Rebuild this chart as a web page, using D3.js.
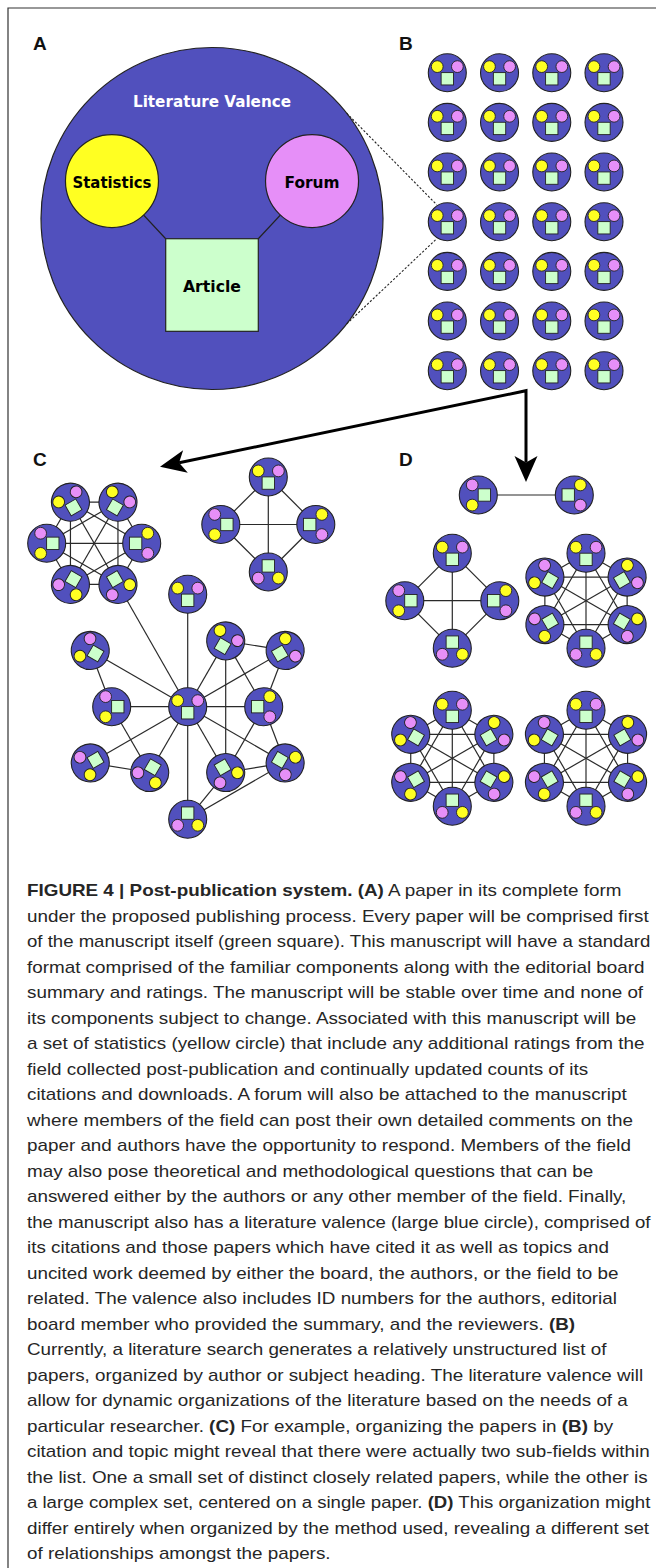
<!DOCTYPE html>
<html>
<head>
<meta charset="utf-8">
<script src="https://cdn.jsdelivr.net/npm/d3@7"></script>
<style>
  body { margin: 0; background: #fff; }
  svg { display: block; }
</style>
</head>
<body>
<svg id="fig" width="656" height="1568"></svg>
<script>
// ---------- data ----------
const panelLabels = ['A', 'B', 'C', 'D']
const valenceTitle = 'Literature Valence'
const componentLabels = ['Statistics', 'Forum', 'Article']

// B: unstructured list of papers (rows x columns)
const listRows = d3.range(7)
const listCols = d3.range(4)
const zoomedRow = 3
const zoomedCol = 0

// C: large cluster centred on a single paper
const starInner = ['s1', 's2', 's3', 's4', 's5']
const starOuter = ['t1', 't2', 't3', 't4', 't5', 't6']
const starLinks = [
  ['t1', 's5'], ['s5', 's4'], ['t6', 's4'], ['s1', 't3'],
  ['s1', 's2'], ['t3', 's2'], ['s1', 's3'], ['s2', 's3'],
  ['s2', 't4'], ['s3', 't4'], ['t5', 't4'], ['t5', 's3'],
]
// C: small sets of closely related papers (all papers linked to each other)
const clusterSizesC = [6, 4]
// D: organised by method
const clusterSizesD = [2, 4, 6, 6, 6]

const captionLines = [
  '**FIGURE 4 | Post-publication system. (A)** A paper in its complete form',
  'under the proposed publishing process. Every paper will be comprised first',
  'of the manuscript itself (green square). This manuscript will have a standard',
  'format comprised of the familiar components along with the editorial board',
  'summary and ratings. The manuscript will be stable over time and none of',
  'its components subject to change. Associated with this manuscript will be',
  'a set of statistics (yellow circle) that include any additional ratings from the',
  'field collected post-publication and continually updated counts of its',
  'citations and downloads. A forum will also be attached to the manuscript',
  'where members of the field can post their own detailed comments on the',
  'paper and authors have the opportunity to respond. Members of the field',
  'may also pose theoretical and methodological questions that can be',
  'answered either by the authors or any other member of the field. Finally,',
  'the manuscript also has a literature valence (large blue circle), comprised of',
  'its citations and those papers which have cited it as well as topics and',
  'uncited work deemed by either the board, the authors, or the field to be',
  'related. The valence also includes ID numbers for the authors, editorial',
  'board member who provided the summary, and the reviewers. **(B)**',
  'Currently, a literature search generates a relatively unstructured list of',
  'papers, organized by author or subject heading. The literature valence will',
  'allow for dynamic organizations of the literature based on the needs of a',
  'particular researcher. **(C)** For example, organizing the papers in **(B)** by',
  'citation and topic might reveal that there were actually two sub-fields within',
  'the list. One a small set of distinct closely related papers, while the other is',
  'a large complex set, centered on a single paper. **(D)** This organization might',
  'differ entirely when organized by the method used, revealing a different set',
  'of relationships amongst the papers.',
]

// ---------- layout & style ----------
const col = {
  valence: '#5150bd',
  stats: '#ffff22',
  forum: '#e68ff8',
  article: '#ccffcc',
  ink: '#222',
}
const nodeR = 19
const labelPos = [[33, 50], [399, 50], [33, 466], [399, 466]]
const bigA = { cx: 212, cy: 218.5, r: 171 }

const svg = d3.select('#fig')
  .style('font-family', "'Liberation Sans', Arial, sans-serif")

// frame (top and left rule)
svg.append('path')
  .attr('d', 'M8,1568V8H656')
  .attr('fill', 'none')
  .attr('stroke', '#333')
  .attr('stroke-width', 1.2)

// panel letters
svg.append('g').selectAll('text')
  .data(panelLabels)
  .join('text')
  .attr('x', (d, i) => labelPos[i][0])
  .attr('y', (d, i) => labelPos[i][1])
  .attr('font-size', 19)
  .attr('font-weight', 'bold')
  .attr('fill', '#111')
  .text((d) => d)

// one paper: valence circle with statistics, forum and article
function paper(parent, cx, cy, rot) {
  const r = nodeR
  const g = parent.append('g')
    .attr('transform', `translate(${cx},${cy}) rotate(${rot})`)
  g.append('circle').attr('r', r)
    .attr('fill', col.valence).attr('stroke', col.ink).attr('stroke-width', 1.1)
  const s = 0.65 * r
  g.append('rect')
    .attr('x', -s / 2).attr('y', 0.32 * r - s / 2)
    .attr('width', s).attr('height', s)
    .attr('fill', col.article).attr('stroke', col.ink).attr('stroke-width', 0.9)
  g.append('circle')
    .attr('cx', -0.53 * r).attr('cy', -0.32 * r).attr('r', 0.31 * r)
    .attr('fill', col.stats).attr('stroke', col.ink).attr('stroke-width', 0.9)
  g.append('circle')
    .attr('cx', 0.53 * r).attr('cy', -0.32 * r).attr('r', 0.31 * r)
    .attr('fill', col.forum).attr('stroke', col.ink).attr('stroke-width', 0.9)
}

const rad = (deg) => (deg * Math.PI) / 180
const polar = (c, R, deg) => [c[0] + R * Math.cos(rad(deg)), c[1] + R * Math.sin(rad(deg))]

// ---------- A ----------
const gA = svg.append('g')
const stat = { x: bigA.cx - 0.585 * bigA.r, y: bigA.cy - 0.219 * bigA.r, r: 0.272 * bigA.r }
const forum = { x: bigA.cx + 0.585 * bigA.r, y: stat.y, r: stat.r }
const art = { x: bigA.cx, y: bigA.cy + 0.389 * bigA.r, s: 0.5415 * bigA.r }

gA.append('circle')
  .attr('cx', bigA.cx).attr('cy', bigA.cy).attr('r', bigA.r)
  .attr('fill', col.valence).attr('stroke', col.ink).attr('stroke-width', 1.2)
gA.append('path')
  .attr('d', `M${stat.x},${stat.y}L${art.x - art.s / 2},${art.y - art.s / 2}` +
    `M${forum.x},${forum.y}L${art.x + art.s / 2},${art.y - art.s / 2}`)
  .attr('stroke', col.ink).attr('stroke-width', 1.2)
gA.append('rect')
  .attr('x', art.x - art.s / 2).attr('y', art.y - art.s / 2)
  .attr('width', art.s).attr('height', art.s)
  .attr('fill', col.article).attr('stroke', col.ink).attr('stroke-width', 1.2)
gA.selectAll('circle.part')
  .data([[stat, col.stats], [forum, col.forum]])
  .join('circle')
  .attr('class', 'part')
  .attr('cx', (d) => d[0].x).attr('cy', (d) => d[0].y).attr('r', (d) => d[0].r)
  .attr('fill', (d) => d[1]).attr('stroke', col.ink).attr('stroke-width', 1.2)

const labelFont = "'DejaVu Sans', Verdana, sans-serif"
gA.append('text')
  .attr('x', bigA.cx).attr('y', bigA.cy - 0.652 * bigA.r)
  .attr('text-anchor', 'middle').attr('font-family', labelFont)
  .attr('font-weight', 'bold').attr('font-size', 15).attr('fill', '#fff')
  .attr('textLength', 158).attr('lengthAdjust', 'spacingAndGlyphs')
  .text(valenceTitle)
const compPos = [[stat.x, stat.y + 7, 79], [forum.x, forum.y + 7, 55], [art.x, art.y + 7, 58]]
gA.selectAll('text.comp')
  .data(componentLabels)
  .join('text')
  .attr('class', 'comp')
  .attr('x', (d, i) => compPos[i][0]).attr('y', (d, i) => compPos[i][1])
  .attr('textLength', (d, i) => compPos[i][2]).attr('lengthAdjust', 'spacingAndGlyphs')
  .attr('text-anchor', 'middle').attr('font-family', labelFont)
  .attr('font-weight', 'bold').attr('font-size', 15).attr('fill', '#000')
  .text((d) => d)

// ---------- B ----------
const xB = d3.scalePoint().domain(listCols).range([447.3, 604])
const yB = d3.scalePoint().domain(listRows).range([72.7, 370.7])
const gB = svg.append('g')
d3.cross(listRows, listCols).forEach(([r, c]) => paper(gB, xB(c), yB(r), 0))

// dashed zoom lines from A to one paper in B
const target = [xB(zoomedCol), yB(zoomedRow)]
const dashes = [[-38, -122], [38, 122]].map(([a1, a2]) => [
  polar([bigA.cx, bigA.cy], bigA.r, a1),
  polar(target, nodeR + 1, a2),
])
svg.append('g').selectAll('line')
  .data(dashes)
  .join('line')
  .attr('x1', (d) => d[0][0]).attr('y1', (d) => d[0][1])
  .attr('x2', (d) => d[1][0]).attr('y2', (d) => d[1][1])
  .attr('stroke', '#222').attr('stroke-width', 1.1).attr('stroke-dasharray', '2.2,1.8')

// ---------- arrows ----------
const corner = [526, 390.7]
const tipC = [160, 466.7]
const tipD = [526, 482]
function head(tip, from, len = 26, half = 11.5, notch = 6.5) {
  const a = Math.atan2(tip[1] - from[1], tip[0] - from[0])
  const ux = Math.cos(a), uy = Math.sin(a)
  const back = [tip[0] - ux * len, tip[1] - uy * len]
  const p1 = [back[0] - uy * half, back[1] + ux * half]
  const p2 = [back[0] + uy * half, back[1] - ux * half]
  const n = [tip[0] - ux * (len - notch), tip[1] - uy * (len - notch)]
  return { d: `M${tip}L${p1}L${n}L${p2}Z`, n }
}
const hC = head(tipC, corner)
const hD = head(tipD, corner)
const gArr = svg.append('g')
gArr.append('path')
  .attr('d', `M${hC.n}L${corner}L${hD.n}`)
  .attr('fill', 'none').attr('stroke', '#000').attr('stroke-width', 3)
  .attr('stroke-linejoin', 'miter')
gArr.selectAll('path.head')
  .data([hC, hD])
  .join('path')
  .attr('class', 'head')
  .attr('d', (d) => d.d)
  .attr('fill', '#000')

// ---------- clusters (C and D) ----------
const polyLayoutC = [
  { c: [94.2, 543.3], R: 47.5, start: 0 },
  { c: [268.3, 524.5], R: 47.5, start: -90 },
]
const polyLayoutD = [
  { c: [526.3, 495], R: 48, start: 180 },
  { c: [452.3, 600.7], R: 47.5, start: -90 },
  { c: [586, 600.8], R: 47.5, start: -90 },
  { c: [452.3, 758.3], R: 48, start: -90 },
  { c: [586, 758.3], R: 48, start: -90 },
]
function polygonNodes(n, lay) {
  return d3.range(n).map((i) => {
    const ang = lay.start + (360 / n) * i
    const p = polar(lay.c, lay.R, ang)
    return { x: p[0], y: p[1], rot: ang + 90 }
  })
}
const edgeLayer = svg.append('g')
const nodeLayer = svg.append('g')
const edges = []
const allNodes = []

const polysC = clusterSizesC.map((n, k) => polygonNodes(n, polyLayoutC[k]))
const polysD = clusterSizesD.map((n, k) => polygonNodes(n, polyLayoutD[k]))
polysC.concat(polysD).forEach((nodes) => {
  nodes.forEach((a, i) => nodes.forEach((b, j) => { if (j > i) edges.push([a, b]) }))
  allNodes.push(...nodes)
})

// star cluster
const hub = { x: 187.7, y: 706.7, rot: 0 }
const starNodes = { hub }
const innerAngles = [-60, 0, 60, 120, 180]
const outerAngles = [-150, -90, -30, 30, 90, 150]
starInner.forEach((id, i) => {
  const p = polar([hub.x, hub.y], 76, innerAngles[i])
  starNodes[id] = { x: p[0], y: p[1], rot: innerAngles[i] + 90 }
})
starOuter.forEach((id, i) => {
  const p = polar([hub.x, hub.y], 112.5, outerAngles[i])
  starNodes[id] = { x: p[0], y: p[1], rot: outerAngles[i] + 90 }
})
starInner.concat(starOuter).forEach((id) => edges.push([hub, starNodes[id]]))
starLinks.forEach(([a, b]) => edges.push([starNodes[a], starNodes[b]]))
edges.push([polysC[0][1], hub]) // the two C sub-fields touch here
allNodes.push(...Object.values(starNodes))

edgeLayer.selectAll('line')
  .data(edges)
  .join('line')
  .attr('x1', (d) => d[0].x).attr('y1', (d) => d[0].y)
  .attr('x2', (d) => d[1].x).attr('y2', (d) => d[1].y)
  .attr('stroke', '#2a2a2a').attr('stroke-width', 1.2)

allNodes.forEach((d) => paper(nodeLayer, d.x, d.y, d.rot))

// ---------- caption ----------
const capY = d3.scaleLinear().domain([0, captionLines.length - 1]).range([896, 1559])
const cap = svg.append('g')
  .attr('font-size', 16)
  .attr('fill', '#262626')
const capTexts = captionLines.map((line) => {
  const t = cap.append('text').attr('x', 0).attr('y', 0)
  line.split('**').forEach((part, k) => {
    if (!part) return
    t.append('tspan').attr('font-weight', k % 2 ? 'bold' : null).text(part)
  })
  return t
})
// the caption face is narrower than the installed sans: squeeze to fit the column
const refW = capTexts[22].node().getComputedTextLength()
const sx = 623 / refW
const maxW = 624
capTexts.forEach((t, i) => {
  const w = t.node().getComputedTextLength()
  const s = Math.min(sx, maxW / w)
  t.attr('transform', `translate(27,${capY(i)}) scale(${s},1)`)
})
</script>
</body>
</html>
